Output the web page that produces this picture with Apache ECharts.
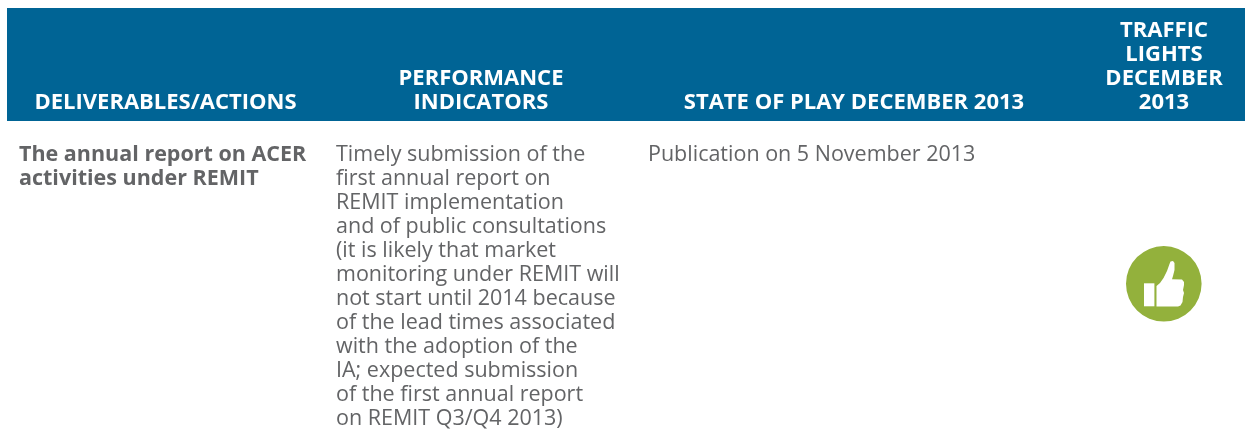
<!DOCTYPE html>
<html>
<head>
<meta charset="utf-8">
<style>
  html, body { margin: 0; padding: 0; background: #fff; }
  #main { width: 1245px; height: 440px; }
</style>
<script src="https://cdn.jsdelivr.net/npm/echarts@6/dist/echarts.min.js"></script>
</head>
<body>
<div id="main"></div>
<script>
const headDeliverables = ['DELIVERABLES/ACTIONS']
const headIndicators = ['PERFORMANCE', 'INDICATORS']
const headState = ['STATE OF PLAY DECEMBER 2013']
const headLights = ['TRAFFIC', 'LIGHTS', 'DECEMBER', '2013']
const rowDeliverable = ['The annual report on ACER', 'activities under REMIT']
const rowIndicator = [
  'Timely submission of the',
  'first annual report on',
  'REMIT implementation',
  'and of public consultations',
  '(it is likely that market',
  'monitoring under REMIT will',
  'not start until 2014 because',
  'of the lead times associated',
  'with the adoption of the',
  'IA; expected submission',
  'of the first annual report',
  'on REMIT Q3/Q4 2013)'
]
const rowState = ['Publication on 5 November 2013']

const blue = '#006495'
const grey = '#636466'
const green = '#93B13C'
const font = '"Open Sans", "Noto Sans", sans-serif'

// one text element per line, y is the middle of the first line
function lines(list, x, y, step, style) {
  return list.map((t, i) => ({
    type: 'text',
    x: x,
    y: y + i * step,
    style: Object.assign({ text: t, fontFamily: font, textVerticalAlign: 'middle' }, style)
  }))
}
// header cells sit on the bottom of the band
function head(list, x) {
  return lines(list, x, 103 - (list.length - 1) * 24, 24, {
    fill: '#fff', fontWeight: 'bold', fontSize: 22, textAlign: 'center'
  })
}

const chart = echarts.init(document.getElementById('main'), null, { renderer: 'canvas' })
chart.setOption({
  animation: false,
  backgroundColor: '#fff',
  graphic: [
    { type: 'rect', shape: { x: 7, y: 8, width: 1238, height: 113 }, style: { fill: blue } },
    ...head(headDeliverables, 165.5),
    ...head(headIndicators, 481),
    ...head(headState, 854),
    ...head(headLights, 1164),
    ...lines(rowDeliverable, 19, 155, 24, { fill: grey, fontWeight: 'bold', fontSize: 21.5, textAlign: 'left' }),
    ...lines(rowIndicator, 336, 155, 24, { fill: grey, fontSize: 21.5, textAlign: 'left' }),
    ...lines(rowState, 648, 155, 24, { fill: grey, fontSize: 21.5, textAlign: 'left' }),
    // thumbs up icon
    { type: 'circle', shape: { cx: 1163.8, cy: 283.8, r: 37.8 }, style: { fill: green } },
    { type: 'rect', shape: { x: 1144, y: 283.3, width: 10.4, height: 23 }, style: { fill: '#fff' } },
    {
      type: 'polygon',
      shape: {
        points: [
          [1156.5, 286], [1160, 283], [1163.5, 278], [1167, 271], [1169.5, 264], [1170.5, 261.5],
          [1173, 261], [1174.5, 263], [1174.5, 270], [1173, 276], [1172, 279.3], [1182, 279.5],
          [1184, 282], [1184, 285], [1183, 290], [1184, 293], [1183, 297], [1182.5, 302],
          [1180.5, 305.5], [1178, 306.5], [1156.5, 306.5]
        ]
      },
      style: { fill: '#fff' }
    }
  ]
})
</script>
</body>
</html>
